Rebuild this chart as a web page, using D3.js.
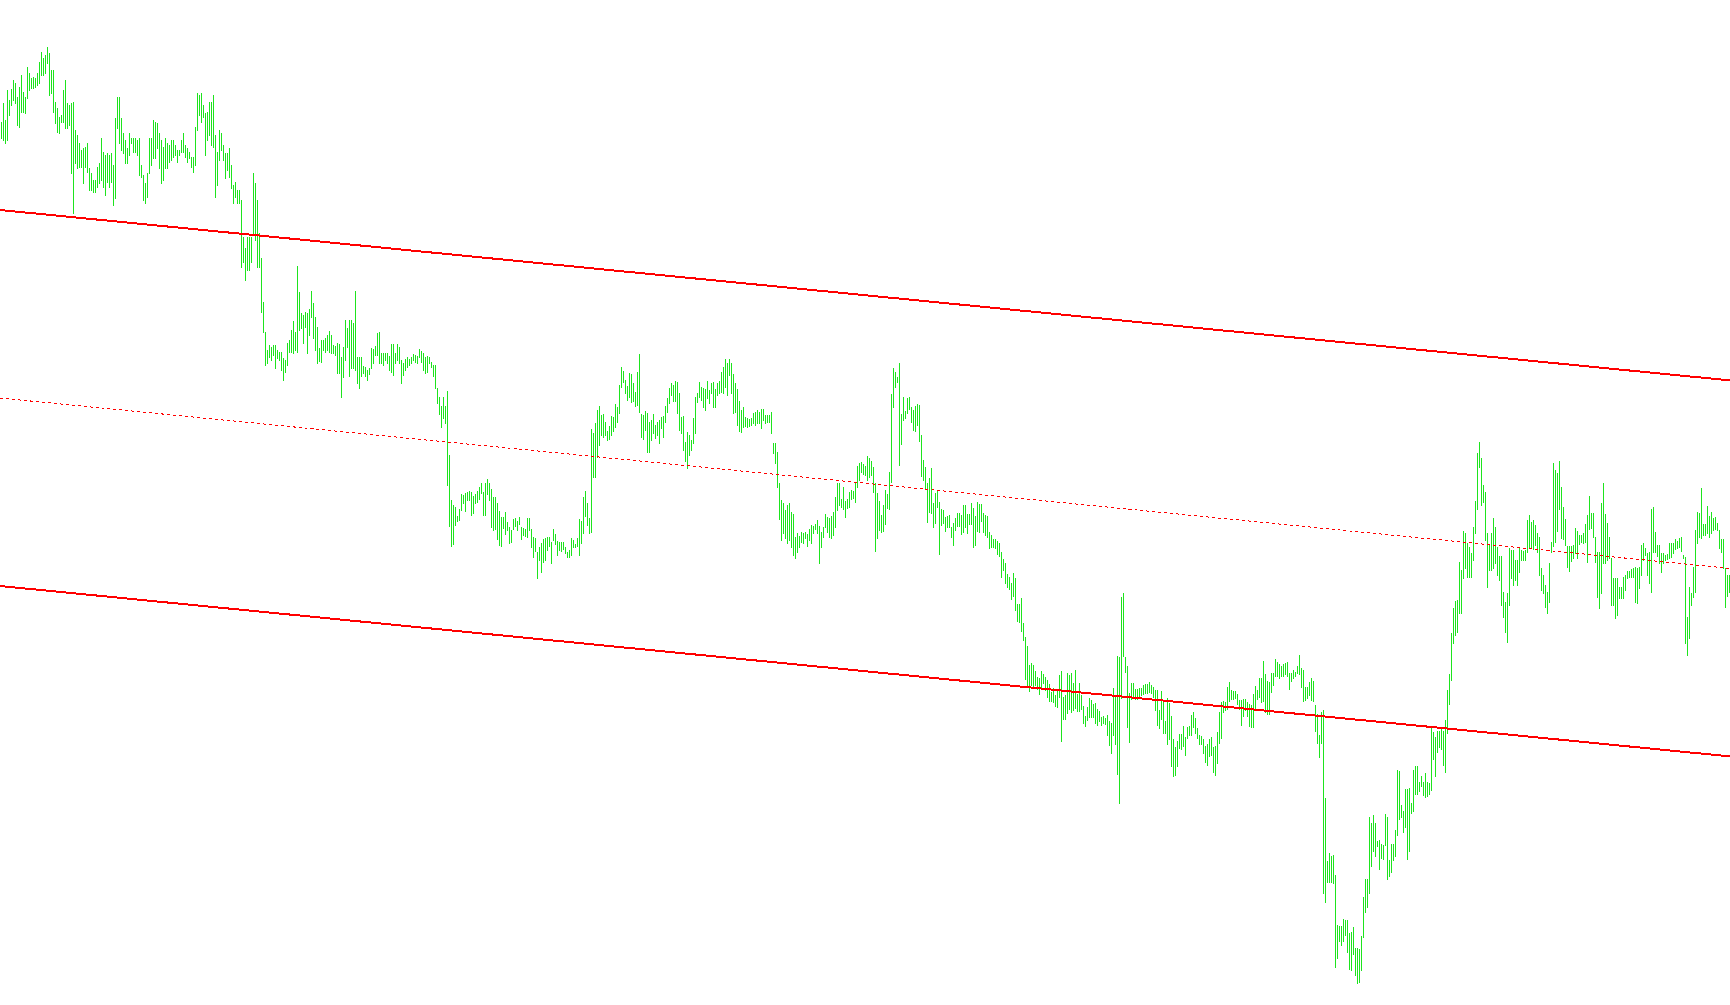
<!DOCTYPE html>
<html><head><meta charset="utf-8">
<script src="https://cdn.jsdelivr.net/npm/d3@7"></script>
<style>html,body{margin:0;padding:0;background:#fff;overflow:hidden}</style>
</head><body><div id="chart"></div>
<script>
// Bar highs (price points), one per bar
const highs = [
1878,1897,1880,1910,1900,1911,1920,1917,1903,1913,1925,1908,1903,1933,1927,1922,1923,1922,1927,1938,
1948,1942,1945,1953,1947,1930,1930,1898,1892,1883,1885,1910,1920,1897,1895,1897,1898,1870,1865,1857,
1850,1852,1853,1857,1832,1827,1820,1820,1833,1837,1862,1848,1845,1847,1845,1847,1835,1882,1903,1903,
1882,1867,1860,1852,1867,1862,1862,1862,1860,1862,1835,1825,1817,1827,1862,1862,1880,1878,1877,1867,
1860,1853,1862,1857,1855,1860,1860,1855,1850,1850,1860,1867,1855,1852,1848,1843,1843,1873,1907,1905,
1907,1895,1887,1888,1898,1898,1905,1865,1848,1870,1867,1855,1847,1847,1852,1835,1815,1818,1810,1810,
1800,1763,1752,1763,1763,1763,1827,1817,1800,1767,1742,1698,1668,1650,1655,1653,1655,1655,1650,1648,
1648,1642,1640,1657,1660,
1670,1679,1668,1734,1708,1687,1685,1688,1687,1691,1709,1697,1683,1673,1652,1660,1660,1662,1665,1669,
1665,1655,1654,1657,1656,1643,1653,1680,1672,1680,1680,1677,1709,1643,1643,1643,1634,1633,1630,1632,
1652,1651,1654,1667,1668,1647,1647,1647,1647,1644,1656,1656,1647,1656,1653,1640,1637,1641,1643,1641,
1643,1646,1645,1644,1651,1649,1647,1643,1644,1643,1638,1635,1635,1612,1603,1594,1603,1594,1609,1545,
1500,1495,1493,1484,1491,1506,1505,1507,1508,1509,1508,1504,1506,1509,1513,1517,1508,1517,1521,1517,
1511,1503,1503,1497,1489,1483,1483,1488,1478,1473,1470,1481,1482,1479,1483,1473,1472,1471,1482,1482,
1471,1463,1462,1448,1453,1457,1461,1462,1463,1463,1458,1471,1466,1459,1458,1458,1458,1453,1448,1450,
1462,1460,1456,1462,1481,
1479,1503,1509,1497,1482,1571,1567,1577,1590,1594,1585,1586,1578,1569,1574,1584,1583,1596,1593,1615,
1633,1629,1620,1614,1627,1626,1617,1608,1628,1646,1586,1585,1589,1587,1578,1580,1586,1575,1578,1580,
1583,1584,1594,1602,1612,1617,1615,1619,1618,1607,1583,1584,1558,1568,1565,1560,1582,1603,1607,1618,
1613,1612,1611,1619,1610,1617,1618,1611,1617,1619,1628,1633,1641,1637,1641,1637,1626,1617,1611,1599,
1590,1593,1583,1582,1581,1582,1587,1588,1590,1588,1591,1591,1585,1585,1585,1588,1557,1557,1548,1517,
1500,1497,1490,1495,1497,1488,1486,1463,1467,1464,1468,1467,1468,1466,1471,1475,1474,1476,1480,1474,
1468,1473,1486,1483,1482,1484,1488,1503,1517,1517,1501,1513,1499,1501,1508,1510,1509,1517,1534,1537,
1538,1536,1534,1544,1542,
1539,1533,1517,1507,1499,1485,1495,1510,1506,1528,1606,1632,1628,1623,1637,1586,1603,1589,1602,1603,
1593,1590,1594,1596,1595,1565,1540,1533,1517,1522,1532,1497,1507,1509,1498,1491,1490,1483,1484,1485,
1473,1477,1482,1487,1487,1485,1495,1495,1486,1486,1497,1492,1484,1498,1496,1496,1487,1485,1484,1468,
1465,1461,1461,1459,1457,1448,1441,1437,1426,1423,1417,1427,1422,1396,1396,1402,1377,1363,1354,1335,
1337,1335,1329,1323,1322,1329,1326,1323,1320,1316,1308,1312,1305,1310,1325,1329,1303,1305,1327,1325,
1327,1317,1330,1306,1317,1305,1294,1284,1293,1302,1300,1296,1297,1291,1289,1283,1284,1282,1285,1279,
1277,1312,1303,1344,1343,1403,1407,1343,1334,1307,1317,1317,1311,1311,1312,1312,1315,1316,1316,1318,
1315,1313,1310,1310,1290,
1309,1299,1279,1302,1297,1284,1261,1253,1259,1266,1266,1274,1263,1273,1274,1285,1288,1282,1272,1265,
1264,1261,1254,1256,1261,1263,1253,1254,1268,1288,1298,1299,1298,1313,1318,1310,1309,1309,1306,1300,
1300,1301,1301,1298,1296,1295,1306,1314,1310,1322,1322,1339,1326,1319,1318,1327,1327,1341,1338,1336,
1334,1336,1337,1338,1327,1327,1330,1328,1334,1345,1332,1330,1313,1313,1318,1322,1319,1295,1286,1265,
1288,1290,1202,1139,1147,1144,1145,1125,1075,1074,1074,1081,1080,1080,1067,1068,1073,1052,1052,1051,
1064,1103,1121,1121,1183,1177,1185,1177,1159,1160,1156,1155,1186,1183,1140,1156,1156,1170,1230,1229,
1195,1189,1211,1211,1212,1197,1230,1234,1234,1218,1224,1218,1227,1218,1217,1274,1268,1263,1269,1269,
1271,1269,1280,1310,1326,
1367,1392,1399,1400,1438,1430,1469,1467,1457,1453,1447,1473,1499,1547,1558,1542,1515,1508,1467,1455,
1467,1482,1473,1453,1444,1444,1408,1398,1407,1452,1450,1450,1440,1440,1453,1450,1449,1450,1480,1485,
1478,1480,1475,1467,1463,1432,1425,1415,1408,1437,1458,1537,1530,1527,1539,1513,1493,1481,1454,1454,
1454,1455,1472,1469,1465,1465,1467,1476,1485,1504,1487,1487,1463,1448,1448,1497,1517,1486,1477,1463,
1442,1422,1422,1422,1413,1413,1423,1425,1429,1429,1431,1432,1433,1432,1433,1455,1457,1452,1447,1448,
1491,1493,1468,1455,1455,1447,1447,1445,1446,1457,1457,1457,1461,1459,1462,1463,1445,1443,1383,1413,
1407,1433,1470,1488,1487,1512,1476,1476,1494,1484,1488,1482,1483,1477,1470,1461,1461,1432,1425,1425
];
// Bar lows (price points)
const lows = [
1862,1860,1857,1860,1885,1895,1900,1897,1875,1873,1888,1888,1887,1902,1910,1912,1912,1913,1915,1917,
1925,1925,1927,1937,1905,1907,1888,1877,1868,1867,1878,1878,1872,1872,1875,1827,1787,1837,1832,1833,
1833,1817,1833,1828,1810,1810,1808,1808,1813,1817,1820,1813,1805,1818,1813,1818,1795,1802,1872,1857,
1850,1847,1837,1837,1845,1857,1848,1848,1845,1825,1823,1800,1797,1803,1827,1835,1842,1842,1852,1832,
1817,1820,1832,1832,1838,1840,1843,1845,1838,1845,1848,1848,1843,1838,1842,1833,1828,1835,1870,1885,
1878,1883,1845,1860,1865,1855,1853,1803,1815,1840,1850,1840,1822,1830,1823,1812,1797,1803,1797,1797,
1733,1738,1720,1730,1730,1738,1767,1760,1733,1733,1688,1668,1635,1637,1643,1640,1645,1632,1642,1640,
1630,1620,1628,1635,1648,
1648,1647,1650,1648,1670,1672,1657,1673,1647,1665,1683,1662,1650,1637,1639,1638,1650,1648,1650,1648,
1647,1647,1645,1627,1627,1603,1623,1640,1653,1624,1632,1632,1630,1617,1612,1624,1627,1624,1620,1626,
1632,1637,1645,1645,1637,1637,1635,1640,1637,1630,1628,1625,1637,1640,1637,1617,1625,1630,1633,1635,
1637,1640,1638,1637,1643,1638,1630,1627,1628,1637,1633,1624,1612,1597,1586,1573,1582,1577,1515,1474,
1454,1456,1475,1479,1480,1490,1497,1489,1500,1500,1485,1487,1497,1498,1501,1507,1485,1485,1506,1500,
1473,1470,1471,1461,1455,1454,1472,1466,1470,1457,1458,1471,1474,1470,1476,1461,1465,1464,1463,1470,
1453,1443,1449,1422,1440,1428,1438,1440,1450,1454,1437,1460,1456,1445,1450,1449,1451,1447,1443,1443,
1445,1453,1453,1454,1445,
1457,1467,1484,1475,1467,1468,1523,1523,1543,1555,1565,1563,1565,1560,1561,1565,1569,1573,1578,1587,
1613,1618,1607,1600,1603,1598,1599,1594,1595,1588,1563,1561,1570,1548,1548,1560,1567,1562,1565,1557,
1572,1563,1578,1588,1597,1605,1599,1599,1587,1570,1567,1550,1539,1532,1545,1550,1557,1567,1598,1603,
1600,1593,1590,1602,1597,1607,1593,1593,1605,1607,1608,1607,1613,1605,1625,1607,1587,1588,1575,1569,
1568,1573,1574,1573,1574,1575,1577,1575,1577,1577,1572,1580,1577,1578,1578,1567,1547,1537,1513,1481,
1460,1467,1462,1457,1460,1453,1445,1442,1448,1453,1458,1457,1462,1454,1460,1457,1467,1471,1467,1437,
1453,1463,1473,1468,1463,1462,1465,1473,1490,1495,1493,1491,1483,1492,1493,1501,1502,1498,1513,1520,
1528,1526,1525,1520,1523,
1525,1508,1449,1462,1470,1468,1469,1476,1492,1491,1518,1593,1613,1618,1535,1556,1580,1582,1587,1591,
1578,1570,1569,1575,1559,1524,1520,1512,1478,1488,1487,1473,1477,1493,1446,1475,1477,1469,1473,1473,
1463,1455,1470,1474,1474,1466,1468,1473,1467,1476,1476,1453,1455,1469,1468,1479,1468,1465,1463,1452,
1453,1453,1452,1446,1444,1423,1430,1417,1413,1411,1401,1404,1390,1379,1378,1369,1360,1321,1313,1309,
1315,1314,1315,1311,1306,1311,1317,1310,1303,1299,1299,1298,1294,1293,1303,1259,1281,1281,1287,1291,
1288,1290,1292,1289,1289,1291,1277,1274,1280,1283,1283,1283,1277,1275,1279,1275,1277,1276,1265,1255,
1247,1265,1256,1226,1197,1302,1344,1328,1273,1258,1301,1304,1301,1301,1304,1305,1306,1307,1307,1308,
1307,1303,1290,1275,1272,
1281,1267,1267,1256,1261,1234,1224,1225,1234,1252,1251,1254,1245,1262,1265,1265,1273,1267,1262,1256,
1256,1247,1238,1235,1244,1245,1228,1225,1237,1257,1262,1288,1290,1291,1299,1301,1301,1302,1296,1291,
1275,1284,1290,1284,1274,1273,1273,1291,1301,1303,1298,1299,1288,1286,1286,1308,1315,1324,1324,1322,
1324,1324,1326,1324,1311,1319,1322,1324,1327,1326,1313,1299,1300,1302,1305,1300,1299,1269,1257,1243,
1257,1107,1098,1118,1118,1118,1117,1033,1042,1059,1055,1059,1065,1048,1031,1030,1046,1025,1017,1018,
1030,1063,1088,1093,1107,1134,1149,1144,1154,1131,1142,1141,1155,1121,1124,1128,1140,1144,1165,1181,
1183,1168,1173,1141,1149,1187,1189,1206,1206,1209,1214,1205,1203,1204,1206,1210,1241,1224,1248,1253,
1251,1235,1228,1267,1296,
1320,1357,1365,1368,1387,1387,1422,1432,1423,1423,1423,1440,1467,1491,1533,1495,1498,1460,1413,1430,
1430,1432,1437,1425,1420,1395,1383,1368,1358,1395,1422,1415,1420,1415,1428,1440,1440,1440,1448,1452,
1452,1451,1455,1448,1425,1410,1407,1393,1387,1398,1448,1454,1458,1469,1491,1462,1461,1455,1433,1429,
1439,1442,1447,1442,1456,1458,1457,1458,1438,1471,1472,1463,1438,1403,1392,1407,1437,1437,1440,1442,
1395,1395,1382,1385,1402,1402,1402,1410,1422,1423,1423,1423,1398,1397,1412,1425,1440,1445,1425,1417,
1408,1448,1448,1444,1437,1428,1437,1440,1441,1442,1443,1447,1451,1452,1453,1449,1442,1357,1345,1362,
1395,1403,1408,1457,1463,1462,1465,1465,1467,1463,1467,1470,1471,1470,1452,1448,1432,1393,1404,1408
];
// Regression channel: price at the left and right chart edges (bar positions)
const channelBars   = [-0.75, 864.25];
const channelUpper  = [1790, 1619.6];
const channelMiddle = [1602, 1431.6];
const channelLower  = [1414, 1243.6];

const W = 1730, H = 1005;
const svg = d3.select('#chart').append('svg')
  .attr('width', W).attr('height', H)
  .style('display', 'block').style('background', '#ffffff');

const x = d3.scaleLinear().domain([0, highs.length - 1]).range([1.5, 1729.5]);
const y = d3.scaleLinear().domain([995, 2000]).range([1005, 0]);

svg.append('g').selectAll('rect').data(highs).join('rect')
  .attr('x', (d, i) => Math.round(x(i) - 0.5)).attr('width', 1)
  .attr('y', d => Math.round(y(d)))
  .attr('height', (d, i) => Math.round(y(lows[i])) - Math.round(y(d)) + 1)
  .attr('fill', '#1ee41e')
  .attr('shape-rendering', 'crispEdges');

const line = d3.line().x(d => x(d[0])).y(d => y(d[1]));
const ch = svg.append('g');
[[channelUpper, 2, null], [channelLower, 2, null], [channelMiddle, 1, '3,3']].forEach(([vals, w, dash]) => {
  const p = ch.append('path')
    .attr('d', line(channelBars.map((b, i) => [b, vals[i]])))
    .attr('fill', 'none').attr('stroke', '#ff0000').attr('stroke-width', w)
    .attr('shape-rendering', 'crispEdges');
  if (dash) p.attr('stroke-dasharray', dash);
});
</script>
</body></html>
